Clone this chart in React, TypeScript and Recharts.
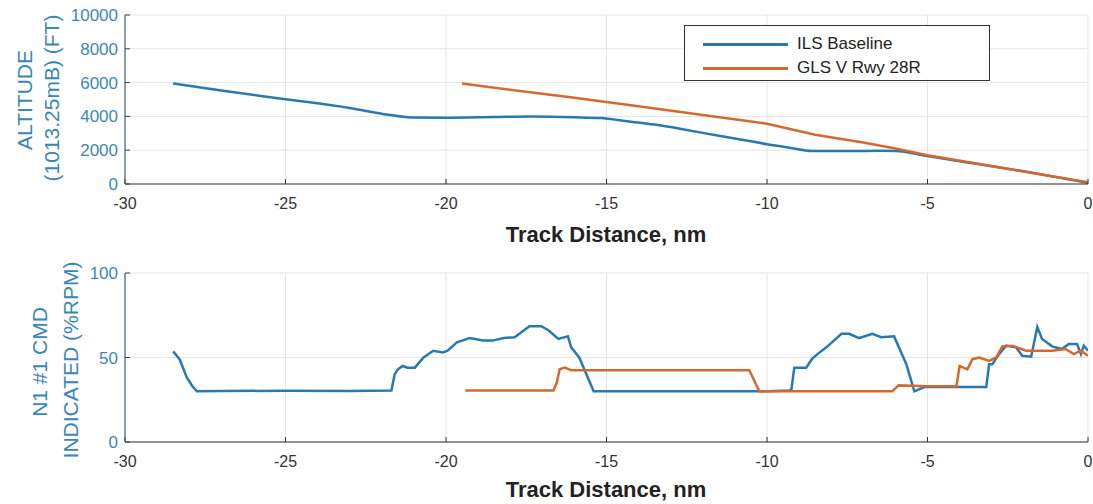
import { CartesianGrid, Line, LineChart, XAxis, YAxis } from "recharts";

const xTicks = [-30, -25, -20, -15, -10, -5, 0];
const altTicks = [0, 2000, 4000, 6000, 8000, 10000];
const n1Ticks = [0, 50, 100];

// altitude, ILS baseline
const ilsAltDist = [-28.5, -27, -25, -23, -21.8, -21, -20, -18.5, -17.4, -16, -15.2, -14.3, -13.5, -12.5, -11.5, -10.5, -10, -9.3, -8.6, -7.5, -6.5, -6, -5, -4, -2, 0];
const ilsAltFt = [5950, 5530, 5020, 4500, 4100, 3930, 3920, 3960, 3990, 3950, 3900, 3700, 3520, 3200, 2850, 2530, 2350, 2150, 1950, 1950, 1970, 1960, 1650, 1350, 750, 80];

// altitude, GLS V Rwy 28R
const glsAltDist = [-19.5, -16, -13.95, -12, -10, -8.5, -7, -6, -5, -2.5, 0];
const glsAltFt = [5940, 5100, 4590, 4080, 3570, 2920, 2450, 2100, 1700, 900, 100];

// N1 cmd, ILS baseline
const ilsN1Dist = [-28.5, -28.3, -28.07, -27.9, -27.76, -27, -25, -23, -21.7, -21.6, -21.5, -21.35, -21.2, -20.97, -20.7, -20.4, -20.1, -19.95, -19.66, -19.26, -18.85, -18.55, -18.2, -17.86, -17.4, -17.03, -16.8, -16.5, -16.2, -16.1, -15.85, -15.4, -14, -12, -10, -9.3, -9.24, -9.15, -8.78, -8.6, -8.43, -8.15, -7.68, -7.44, -7.13, -6.72, -6.44, -6.04, -5.66, -5.41, -5.1, -4, -3.17, -3.08, -2.98, -2.77, -2.55, -2.24, -2.05, -1.77, -1.58, -1.43, -1.12, -0.81, -0.6, -0.34, -0.22, -0.13, 0];
const ilsN1 = [53.6, 49, 38, 33, 30, 30.2, 30.3, 30.2, 30.5, 40, 43, 45, 44, 44, 50, 54, 53, 54, 59, 61.5, 60, 60, 61.5, 62, 68.5, 68.5, 66, 61, 62.5, 56, 50, 30, 30, 30, 30, 30.5, 31, 44, 44, 49, 52, 56, 64, 64, 61.5, 64, 62, 62.5, 46, 30, 32.5, 32.5, 32.5, 46, 46, 52, 57, 56, 51, 50.5, 68, 61, 56.6, 55, 58, 58, 52, 57, 54];

// N1 cmd, GLS V Rwy 28R
const glsN1Dist = [-19.4, -18, -16.65, -16.55, -16.46, -16.3, -16.1, -14, -12, -10.55, -10.24, -8, -6.1, -5.9, -5, -4.1, -4.0, -3.76, -3.6, -3.39, -3.08, -2.86, -2.67, -2.36, -1.93, -1.52, -1.12, -0.7, -0.44, -0.22, 0];
const glsN1 = [30.5, 30.5, 30.5, 35, 43, 44, 42.5, 42.5, 42.5, 42.5, 30, 30, 30, 33.5, 33, 33, 45, 43, 49, 50, 48, 50, 56.6, 57, 54, 54, 54, 55, 52, 54, 51];

const BLUE = "#2a78b0";
const ORANGE = "#d4692f";
const FONT = "'Liberation Sans', Arial, sans-serif";
const LABEL = "#3a86b8";

const zip = (xs: number[], ys: number[]) => xs.map((d, i) => ({ d, v: ys[i] }));

type Series = { name: string; data: { d: number; v: number }[]; color: string; curve: "linear" | "monotone" };

function Panel({ top, series, yMax, yTicks, rMax, rTicks }: { top: number; series: Series[]; yMax: number; yTicks: number[]; rMax: number; rTicks: number[] }) {
  return (
    <div style={{ position: "absolute", left: 0, top }}>
      <LineChart width={1093} height={215} margin={{ top: 15, right: 5, bottom: 0, left: 0 }}>
        <CartesianGrid xAxisId="b" yAxisId="l" stroke="#e4e4e4" />
        <XAxis xAxisId="b" type="number" dataKey="d" domain={[-30, 0]} ticks={xTicks} interval={0} allowDataOverflow
          height={31} tickSize={-5} tickMargin={19} stroke="#333" tick={{ fill: "#333", fontSize: 16, fontFamily: FONT }} />
        <XAxis xAxisId="t" orientation="top" type="number" domain={[-30, 0]} ticks={xTicks} interval={0} allowDataOverflow
          height={0} tickSize={-5} tick={false} stroke="#333" />
        <YAxis yAxisId="l" type="number" domain={[0, yMax]} ticks={yTicks} interval={0} allowDataOverflow
          width={125} tickSize={-5} tickMargin={12} stroke="#1f4e6b" tick={{ fill: "#3f86b5", fontSize: 17, fontFamily: FONT }} />
        <YAxis yAxisId="r" orientation="right" type="number" domain={[0, rMax]} ticks={rTicks} interval={0}
          width={0} tickSize={-5} tick={false} stroke="#d4925e" tickLine={{ stroke: "#666" }} />
        {series.map((s) => (
          <Line key={s.name} xAxisId="b" yAxisId="l" data={s.data} dataKey="v" name={s.name} type={s.curve}
            stroke={s.color} strokeWidth={2.5} dot={false} isAnimationActive={false} />
        ))}
      </LineChart>
    </div>
  );
}

export default function App() {
  const altSeries: Series[] = [
    { name: "ILS Baseline", data: zip(ilsAltDist, ilsAltFt), color: BLUE, curve: "monotone" },
    { name: "GLS V Rwy 28R", data: zip(glsAltDist, glsAltFt), color: ORANGE, curve: "linear" },
  ];
  const n1Series: Series[] = [
    { name: "ILS Baseline", data: zip(ilsN1Dist, ilsN1), color: BLUE, curve: "linear" },
    { name: "GLS V Rwy 28R", data: zip(glsN1Dist, glsN1), color: ORANGE, curve: "linear" },
  ];

  return (
    <div style={{ position: "absolute", left: 0, top: 0, width: 1093, height: 504, background: "#fff", fontFamily: FONT }}>
      <Panel top={0} series={altSeries} yMax={10000} yTicks={altTicks} rMax={10} rTicks={[2, 4, 6, 8]} />
      <Panel top={258} series={n1Series} yMax={100} yTicks={n1Ticks} rMax={5} rTicks={[1, 2, 3]} />

      <div style={{ position: "absolute", left: 684, top: 25, width: 304, height: 54, border: "1.5px solid #333", background: "#fff" }}>
        {altSeries.map((s, i) => (
          <div key={s.name} style={{ position: "absolute", left: 18, top: 8 + i * 24, height: 20, display: "flex", alignItems: "center" }}>
            <div style={{ width: 85, height: 3, background: s.color }} />
            <span style={{ marginLeft: 9, fontSize: 17, color: "#222" }}>{s.name}</span>
          </div>
        ))}
      </div>

      <svg width={1093} height={504} style={{ position: "absolute", left: 0, top: 0, pointerEvents: "none" }}>
        <g fontFamily={FONT} fontSize={21} fill={LABEL} textAnchor="middle" dominantBaseline="central">
          <text transform="translate(24,100) rotate(-90)">ALTITUDE</text>
          <text transform="translate(51,98) rotate(-90)">(1013.25mB) (FT)</text>
          <text transform="translate(39,362) rotate(-90)">N1 #1 CMD</text>
          <text transform="translate(70,360) rotate(-90)">INDICATED (%RPM)</text>
        </g>
        <g fontFamily={FONT} fontSize={22} fontWeight="bold" fill="#222" textAnchor="middle">
          <text x={606} y={242}>Track Distance, nm</text>
          <text x={606} y={497}>Track Distance, nm</text>
        </g>
      </svg>
    </div>
  );
}
